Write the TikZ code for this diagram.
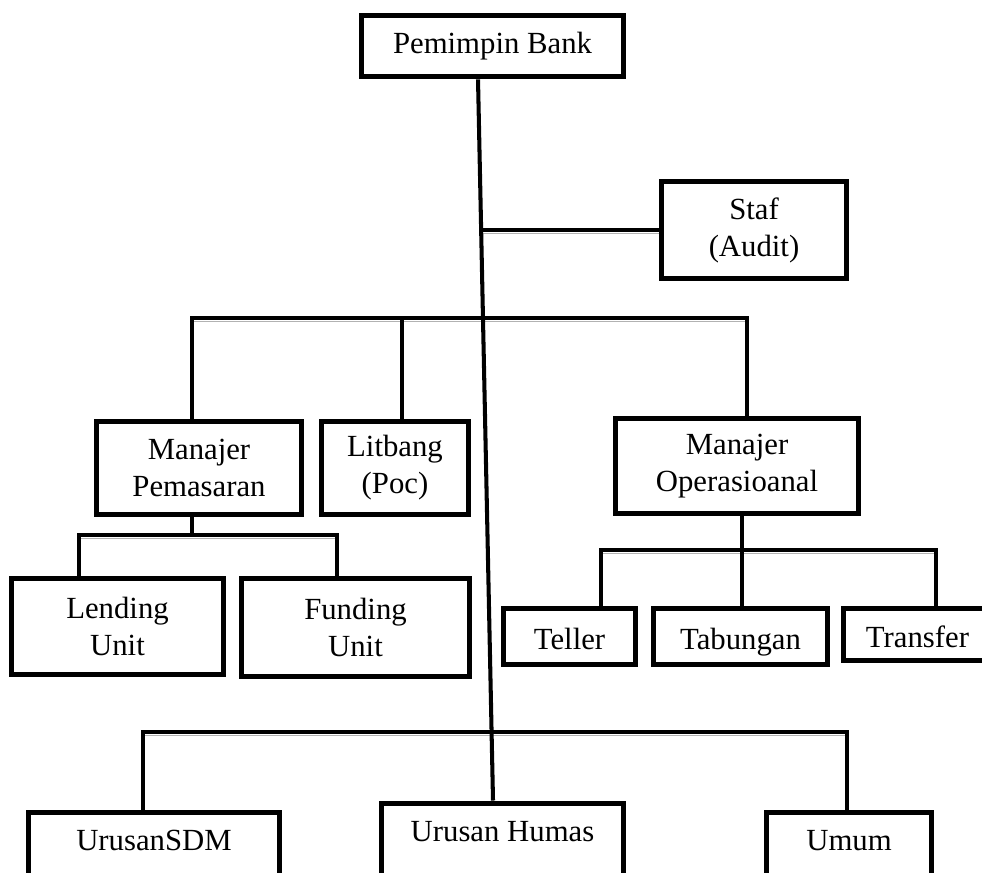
\documentclass[tikz,border=0pt]{standalone}
\usepackage{fontspec}
\setmainfont{Liberation Serif}

\begin{document}
\begin{tikzpicture}[x=0.02cm, y=-0.02cm,
	box/.style = {draw, line width=2.9pt, inner sep=0pt, align=center,
		font=\fontsize{17.5}{21}\selectfont},
	onebox/.style = {box, text height=15pt, text depth=0pt},
	lowbox/.style = {box, anchor=north, text height=22pt, text depth=40pt},
	link/.style = {line width=2.3pt},
	bus/.style = {line width=2.4pt, line cap=rect,
		preaction={draw=gray!60, transform canvas={yshift=-1.9pt}}}]

	\useasboundingbox (0,0) rectangle (982,872);
	\clip (0,0) rectangle (982,872);

	\node[box, minimum width=5.25cm, minimum height=1.23cm] (pb) at (492.5,46) {Pemimpin Bank};
	\node[box, minimum width=3.71cm, minimum height=1.95cm] (staf) at (754,230) {Staf\\(Audit)};
	\node[box, minimum width=4.11cm, minimum height=1.87cm] (mp) at (199,468) {Manajer\\Pemasaran};
	\node[box, minimum width=2.95cm, minimum height=1.87cm] (lit) at (395,468) {Litbang\\(Poc)};
	\node[box, minimum width=4.87cm, minimum height=1.91cm] (mo) at (737,466) {Manajer\\Operasioanal};
	\node[box, minimum width=4.25cm, minimum height=1.93cm] (lend) at (117.5,626.5) {Lending\\Unit};
	\node[box, minimum width=4.57cm, minimum height=1.97cm] (fund) at (355.5,627.5) {Funding\\Unit};
	\node[onebox, minimum width=2.65cm, minimum height=1.13cm] (tel) at (569.5,636.5) {Teller};
	\node[onebox, minimum width=3.49cm, minimum height=1.13cm] (tab) at (740.5,636.5) {Tabungan};
	\node[onebox, minimum width=2.97cm, minimum height=1.05cm] (tra) at (917.5,634.5) {Transfer};
	\node[lowbox, minimum width=5.03cm] (sdm) at (154,809.5) {UrusanSDM};
	\node[lowbox, minimum width=4.85cm] (humas) at (502.5,800.5) {Urusan Humas};
	\node[lowbox, minimum width=3.31cm] (umum) at (849,809.5) {Umum};

	\coordinate (st) at (481,230);
	\coordinate (a1) at (192,318);
	\coordinate (a2) at (402,318);
	\coordinate (a3) at (747,318);
	\coordinate (b0) at (192,535);
	\coordinate (b1) at (79,535);
	\coordinate (b2) at (337,535);
	\coordinate (c0) at (742,550);
	\coordinate (c1) at (601,550);
	\coordinate (c2) at (936,550);
	\coordinate (d1) at (143,732);
	\coordinate (d2) at (847,732);

	\draw[bus] (st) -- (staf.west);

	\draw[bus] (a1) -- (a3);
	\draw[link] (a1) -- (a1 |- mp.north);
	\draw[link] (a2) -- (a2 |- lit.north);
	\draw[link] (a3) -- (a3 |- mo.north);

	\draw[bus] (b1) -- (b2);
	\draw[link] (b0 |- mp.south) -- (b0);
	\draw[link] (b1) -- (b1 |- lend.north);
	\draw[link] (b2) -- (b2 |- fund.north);

	\draw[bus] (c1) -- (c2);
	\draw[link] (c0 |- mo.south) -- (c0 |- tab.north);
	\draw[link] (c1) -- (c1 |- tel.north);
	\draw[link] (c2) -- (c2 |- tra.north);

	\draw[bus] (d1) -- (d2);
	\draw[link] (d1) -- (d1 |- sdm.north);
	\draw[link] (d2) -- (d2 |- umum.north);

	\draw[link] ([xshift=-0.29cm]pb.south) -- ([xshift=-0.19cm]humas.north);
\end{tikzpicture}
\end{document}
